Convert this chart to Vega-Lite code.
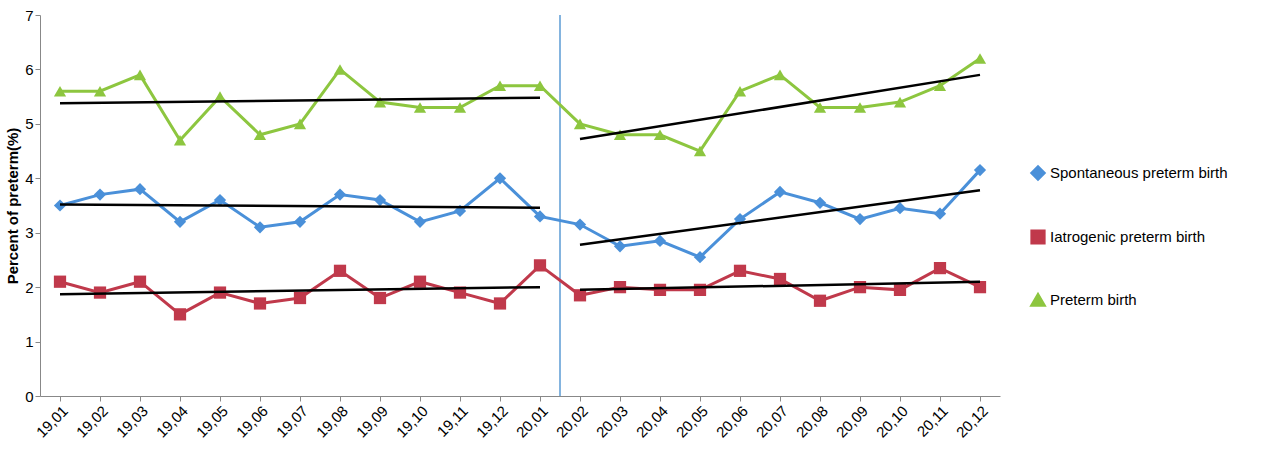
{
"$schema":"https://vega.github.io/schema/vega-lite/v6.json",
"width":960,"height":381,
"padding":{"left":5,"top":8,"right":5,"bottom":5},
"background":"white",
"config":{"view":{"stroke":null},"axis":{"grid":false,"labelFont":"Liberation Sans","titleFont":"Liberation Sans","labelFontSize":15,"labelColor":"#000","domainColor":"#888","tickColor":"#888"},"legend":{"labelFont":"Liberation Sans","labelFontSize":15,"labelColor":"#000"}},
"datasets":{
"pts":[
{"s":"Spontaneous preterm birth","i":0,"v":3.5},{"s":"Spontaneous preterm birth","i":1,"v":3.7},{"s":"Spontaneous preterm birth","i":2,"v":3.8},{"s":"Spontaneous preterm birth","i":3,"v":3.2},{"s":"Spontaneous preterm birth","i":4,"v":3.6},{"s":"Spontaneous preterm birth","i":5,"v":3.1},{"s":"Spontaneous preterm birth","i":6,"v":3.2},{"s":"Spontaneous preterm birth","i":7,"v":3.7},{"s":"Spontaneous preterm birth","i":8,"v":3.6},{"s":"Spontaneous preterm birth","i":9,"v":3.2},{"s":"Spontaneous preterm birth","i":10,"v":3.4},{"s":"Spontaneous preterm birth","i":11,"v":4.0},{"s":"Spontaneous preterm birth","i":12,"v":3.3},{"s":"Spontaneous preterm birth","i":13,"v":3.15},{"s":"Spontaneous preterm birth","i":14,"v":2.75},{"s":"Spontaneous preterm birth","i":15,"v":2.85},{"s":"Spontaneous preterm birth","i":16,"v":2.55},{"s":"Spontaneous preterm birth","i":17,"v":3.25},{"s":"Spontaneous preterm birth","i":18,"v":3.75},{"s":"Spontaneous preterm birth","i":19,"v":3.55},{"s":"Spontaneous preterm birth","i":20,"v":3.25},{"s":"Spontaneous preterm birth","i":21,"v":3.45},{"s":"Spontaneous preterm birth","i":22,"v":3.35},{"s":"Spontaneous preterm birth","i":23,"v":4.15},
{"s":"Iatrogenic preterm birth","i":0,"v":2.1},{"s":"Iatrogenic preterm birth","i":1,"v":1.9},{"s":"Iatrogenic preterm birth","i":2,"v":2.1},{"s":"Iatrogenic preterm birth","i":3,"v":1.5},{"s":"Iatrogenic preterm birth","i":4,"v":1.9},{"s":"Iatrogenic preterm birth","i":5,"v":1.7},{"s":"Iatrogenic preterm birth","i":6,"v":1.8},{"s":"Iatrogenic preterm birth","i":7,"v":2.3},{"s":"Iatrogenic preterm birth","i":8,"v":1.8},{"s":"Iatrogenic preterm birth","i":9,"v":2.1},{"s":"Iatrogenic preterm birth","i":10,"v":1.9},{"s":"Iatrogenic preterm birth","i":11,"v":1.7},{"s":"Iatrogenic preterm birth","i":12,"v":2.4},{"s":"Iatrogenic preterm birth","i":13,"v":1.85},{"s":"Iatrogenic preterm birth","i":14,"v":2.0},{"s":"Iatrogenic preterm birth","i":15,"v":1.95},{"s":"Iatrogenic preterm birth","i":16,"v":1.95},{"s":"Iatrogenic preterm birth","i":17,"v":2.3},{"s":"Iatrogenic preterm birth","i":18,"v":2.15},{"s":"Iatrogenic preterm birth","i":19,"v":1.75},{"s":"Iatrogenic preterm birth","i":20,"v":2.0},{"s":"Iatrogenic preterm birth","i":21,"v":1.95},{"s":"Iatrogenic preterm birth","i":22,"v":2.35},{"s":"Iatrogenic preterm birth","i":23,"v":2.0},
{"s":"Preterm birth","i":0,"v":5.6},{"s":"Preterm birth","i":1,"v":5.6},{"s":"Preterm birth","i":2,"v":5.9},{"s":"Preterm birth","i":3,"v":4.7},{"s":"Preterm birth","i":4,"v":5.5},{"s":"Preterm birth","i":5,"v":4.8},{"s":"Preterm birth","i":6,"v":5.0},{"s":"Preterm birth","i":7,"v":6.0},{"s":"Preterm birth","i":8,"v":5.4},{"s":"Preterm birth","i":9,"v":5.3},{"s":"Preterm birth","i":10,"v":5.3},{"s":"Preterm birth","i":11,"v":5.7},{"s":"Preterm birth","i":12,"v":5.7},{"s":"Preterm birth","i":13,"v":5.0},{"s":"Preterm birth","i":14,"v":4.8},{"s":"Preterm birth","i":15,"v":4.8},{"s":"Preterm birth","i":16,"v":4.5},{"s":"Preterm birth","i":17,"v":5.6},{"s":"Preterm birth","i":18,"v":5.9},{"s":"Preterm birth","i":19,"v":5.3},{"s":"Preterm birth","i":20,"v":5.3},{"s":"Preterm birth","i":21,"v":5.4},{"s":"Preterm birth","i":22,"v":5.7},{"s":"Preterm birth","i":23,"v":6.2}],
"trend":[
{"g":"p1","i":0,"v":5.38},{"g":"p1","i":12,"v":5.48},{"g":"p2","i":13,"v":4.72},{"g":"p2","i":23,"v":5.9},
{"g":"s1","i":0,"v":3.52},{"g":"s1","i":12,"v":3.46},{"g":"s2","i":13,"v":2.78},{"g":"s2","i":23,"v":3.78},
{"g":"a1","i":0,"v":1.87},{"g":"a1","i":12,"v":2.0},{"g":"a2","i":13,"v":1.95},{"g":"a2","i":23,"v":2.1}],
"vline":[{"i":12.5}]
},
"layer":[
{"data":{"name":"vline"},"mark":{"type":"rule","color":"#5b9bd5","strokeWidth":1.5},"encoding":{"x":{"field":"i","type":"quantitative"}}},
{"data":{"name":"pts"},"mark":{"type":"line","strokeWidth":3,"point":{"size":150,"filled":true,"opacity":1}},
"encoding":{
"x":{"field":"i","type":"quantitative","scale":{"domain":[-0.5,23.5],"nice":false},"axis":{"title":null,"values":[0,1,2,3,4,5,6,7,8,9,10,11,12,13,14,15,16,17,18,19,20,21,22,23],"labelAngle":-45,"labelAlign":"right","labelBaseline":"top","labelExpr":"['19,01','19,02','19,03','19,04','19,05','19,06','19,07','19,08','19,09','19,10','19,11','19,12','20,01','20,02','20,03','20,04','20,05','20,06','20,07','20,08','20,09','20,10','20,11','20,12'][datum.value]"}},
"y":{"field":"v","type":"quantitative","scale":{"domain":[0,7]},"axis":{"title":"Percent of preterm(%)","titleFontSize":15,"titleFontWeight":"bold","tickCount":7,"titleColor":"#000"}},
"color":{"field":"s","type":"nominal","scale":{"domain":["Spontaneous preterm birth","Iatrogenic preterm birth","Preterm birth"],"range":["#4a90d9","#c0394b","#8dc63f"]},"legend":{"title":null,"orient":"none","legendX":990,"legendY":150,"symbolSize":150,"symbolStrokeWidth":3,"rowPadding":38,"labelLimit":260}},
"shape":{"field":"s","type":"nominal","scale":{"domain":["Spontaneous preterm birth","Iatrogenic preterm birth","Preterm birth"],"range":["diamond","square","triangle-up"]},"legend":null}}},
{"data":{"name":"trend"},"mark":{"type":"line","color":"black","strokeWidth":2.5},"encoding":{"x":{"field":"i","type":"quantitative"},"y":{"field":"v","type":"quantitative"},"detail":{"field":"g"}}}
]
}
